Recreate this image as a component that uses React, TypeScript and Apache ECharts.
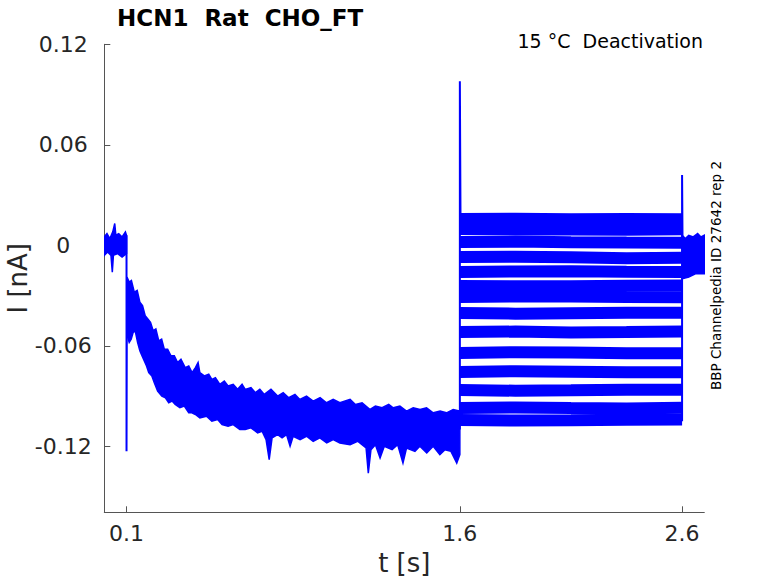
import React, { useEffect, useRef } from "react";
import * as echarts from "echarts";

const BLUE = "#0000ff";
const AXIS_TEXT = "#262626";
const AXIS_LINE = "#555555";
const FONT = "DejaVu Sans";

const xTicks = [0.1, 1.6, 2.6];
const xTickLabels = ["0.1", "1.6", "2.6"];
const yTicks = [-0.12, -0.06, 0, 0.06, 0.12];
const yTickLabels = ["-0.12", "-0.06", "0", "0.06", "0.12"];

// baseline before the step (envelope of all sweeps)
const preUpper = [[0, 0.005], [0.012, 0.007], [0.025, 0.004], [0.038, 0.008], [0.047, 0.013], [0.052, 0.006], [0.065, 0.007], [0.08, 0.005], [0.095, 0.008], [0.1, 0.006]];
const preLower = [[0, -0.006], [0.015, -0.004], [0.03, -0.006], [0.036, -0.016], [0.041, -0.006], [0.06, -0.005], [0.08, -0.007], [0.1, -0.005]];

// activation phase (envelope of all overlapping sweeps)
const decayUpper = [[0.102, -0.019], [0.112, -0.022], [0.122, -0.021], [0.135, -0.028], [0.148, -0.027], [0.16, -0.034], [0.172, -0.036], [0.184, -0.042], [0.196, -0.044], [0.208, -0.046], [0.22, -0.051], [0.232, -0.05], [0.245, -0.057], [0.258, -0.056], [0.27, -0.062], [0.285, -0.062], [0.3, -0.066], [0.315, -0.066], [0.33, -0.07], [0.345, -0.068], [0.364, -0.073], [0.38, -0.072], [0.395, -0.076], [0.41, -0.073], [0.422, -0.07], [0.43, -0.076], [0.45, -0.078], [0.47, -0.077], [0.484, -0.08], [0.5, -0.079], [0.52, -0.083], [0.54, -0.081], [0.557, -0.084], [0.58, -0.083], [0.6, -0.086], [0.62, -0.083], [0.634, -0.086], [0.66, -0.085], [0.68, -0.088], [0.7, -0.086], [0.72, -0.089], [0.75, -0.086], [0.78, -0.09], [0.805, -0.088], [0.83, -0.091], [0.858, -0.089], [0.88, -0.092], [0.91, -0.09], [0.94, -0.093], [0.971, -0.091], [1.0, -0.094], [1.03, -0.092], [1.06, -0.094], [1.106, -0.092], [1.13, -0.095], [1.16, -0.094], [1.196, -0.098], [1.22, -0.096], [1.25, -0.097], [1.28, -0.095], [1.3, -0.097], [1.33, -0.096], [1.36, -0.099], [1.39, -0.097], [1.421, -0.098], [1.45, -0.097], [1.48, -0.1], [1.511, -0.099], [1.54, -0.1], [1.57, -0.098], [1.6, -0.099]];
const decayLower = [[0.103, -0.054], [0.112, -0.058], [0.121, -0.056], [0.13, -0.052], [0.139, -0.051], [0.15, -0.058], [0.16, -0.063], [0.17, -0.066], [0.18, -0.069], [0.19, -0.072], [0.2, -0.076], [0.214, -0.078], [0.225, -0.082], [0.24, -0.087], [0.259, -0.09], [0.275, -0.091], [0.29, -0.094], [0.305, -0.093], [0.319, -0.095], [0.34, -0.097], [0.36, -0.096], [0.38, -0.1], [0.394, -0.1], [0.41, -0.101], [0.43, -0.103], [0.46, -0.102], [0.484, -0.105], [0.51, -0.104], [0.53, -0.107], [0.557, -0.108], [0.58, -0.107], [0.61, -0.11], [0.634, -0.11], [0.66, -0.109], [0.69, -0.112], [0.71, -0.111], [0.728, -0.116], [0.742, -0.128], [0.755, -0.115], [0.78, -0.113], [0.8, -0.115], [0.82, -0.113], [0.836, -0.12], [0.85, -0.114], [0.881, -0.116], [0.91, -0.114], [0.94, -0.117], [0.97, -0.115], [1.001, -0.118], [1.03, -0.116], [1.06, -0.118], [1.106, -0.119], [1.14, -0.117], [1.178, -0.121], [1.188, -0.136], [1.2, -0.122], [1.22, -0.119], [1.241, -0.127], [1.26, -0.12], [1.295, -0.122], [1.32, -0.119], [1.344, -0.13], [1.36, -0.121], [1.398, -0.123], [1.42, -0.12], [1.451, -0.124], [1.48, -0.12], [1.51, -0.125], [1.533, -0.122], [1.56, -0.123], [1.586, -0.13], [1.6, -0.125]];

// after returning to holding (envelope of all sweeps)
const postUpper = [[2.6, 0.006], [2.615, 0.004], [2.63, 0.006], [2.65, 0.005], [2.67, 0.007], [2.685, 0.005], [2.7, 0.006]];
const postLower = [[2.6, -0.02], [2.63, -0.019], [2.66, -0.017], [2.7, -0.017]];

// tail currents of each sweep: values at 1.6, 1.85, 2.1, 2.35, 2.6 s
const tailT = [1.6, 1.85, 2.1, 2.35, 2.6];
const tailLevels = [
  [0.0157, 0.0159, 0.0155, 0.0157, 0.0155],
  [0.0097, 0.0094, 0.0095, 0.0093, 0.0096],
  [0.002, 0.0022, 0.0018, 0.0016, 0.0015],
  [-0.007, -0.0068, -0.0072, -0.0078, -0.0075],
  [-0.0159, -0.0156, -0.0155, -0.0158, -0.016],
  [-0.0243, -0.0245, -0.0245, -0.0242, -0.024],
  [-0.0309, -0.0305, -0.0305, -0.0308, -0.031],
  [-0.0404, -0.0408, -0.0405, -0.0402, -0.0402],
  [-0.0518, -0.0515, -0.052, -0.0518, -0.0515],
  [-0.0643, -0.0638, -0.064, -0.0645, -0.0645],
  [-0.0756, -0.0752, -0.0755, -0.0758, -0.0758],
  [-0.0864, -0.0868, -0.0866, -0.0863, -0.0862],
  [-0.0971, -0.0968, -0.0972, -0.0974, -0.097],
  [-0.1043, -0.1046, -0.1045, -0.1042, -0.104],
];

// capacitive transients at the voltage steps
const spike1 = [[0.1, 0.006], [0.1, -0.123], [0.1015, -0.04]];
const spike2 = [[1.6, -0.11], [1.6, 0.098], [1.603, 0.016]];
const spike3 = [[2.6, -0.105], [2.6, 0.042], [2.602, 0.004]];

function bandSeries(upper: number[][], lower: number[][]) {
  return {
    type: "custom",
    silent: true,
    clip: true,
    data: [[upper[0][0], upper[0][1]]],
    renderItem: (_params: any, api: any) => {
      const pts = upper
        .map((p) => api.coord(p))
        .concat(lower.slice().reverse().map((p) => api.coord(p)));
      return {
        type: "polygon",
        shape: { points: pts },
        style: { fill: BLUE, stroke: BLUE, lineWidth: 1.5 },
      };
    },
  };
}

function lineSeries(data: number[][], width: number) {
  return {
    type: "line",
    data,
    showSymbol: false,
    silent: true,
    lineStyle: { color: BLUE, width },
    itemStyle: { color: BLUE },
  };
}

export default function App() {
  const ref = useRef<HTMLDivElement>(null);
  useEffect(() => {
    if (!ref.current) return;
    const chart = echarts.init(ref.current, undefined, { renderer: "svg" });
    const tails = tailLevels.map((lv) =>
      lineSeries(tailT.map((t, j) => [t, lv[j]]), 12)
    );
    chart.setOption({
      animation: false,
      title: {
        text: "HCN1  Rat  CHO_FT",
        left: 117,
        top: 6,
        padding: 0,
        textStyle: { fontFamily: FONT, fontSize: 23, fontWeight: "bold", color: "#000" },
      },
      graphic: [
        {
          type: "text",
          x: 703,
          y: 41,
          style: {
            text: "15 °C  Deactivation",
            fontFamily: FONT,
            fontSize: 19,
            fill: "#000",
            align: "right",
            verticalAlign: "middle",
          },
        },
        {
          type: "text",
          x: 716,
          y: 275.5,
          rotation: Math.PI / 2,
          style: {
            text: "BBP Channelpedia ID 27642 rep 2",
            fontFamily: FONT,
            fontSize: 13.5,
            fill: "#000",
            align: "center",
            verticalAlign: "middle",
          },
        },
      ],
      grid: { left: 104.3, right: 73.7, top: 44.3, bottom: 70.7, containLabel: false, outerBoundsMode: "none" },
      xAxis: {
        type: "value",
        min: 0,
        max: 2.7,
        name: "t [s]",
        nameLocation: "middle",
        nameGap: 38,
        nameMoveOverlap: false,
        nameTextStyle: { fontFamily: FONT, fontSize: 26, color: AXIS_TEXT },
        axisLine: { show: true, onZero: false, lineStyle: { color: AXIS_LINE, width: 1 } },
        axisTick: { show: true, inside: true, length: 6, customValues: xTicks, lineStyle: { color: AXIS_LINE } },
        axisLabel: {
          customValues: xTicks,
          margin: 10,
          fontFamily: FONT,
          fontSize: 22,
          color: AXIS_TEXT,
          formatter: (v: number) => {
            const i = xTicks.findIndex((t) => Math.abs(t - v) < 1e-9);
            return i >= 0 ? xTickLabels[i] : "";
          },
        },
        splitLine: { show: false },
      },
      yAxis: {
        type: "value",
        min: -0.1594,
        max: 0.12,
        name: "I [nA]",
        nameLocation: "middle",
        nameGap: 73,
        nameRotate: 90,
        nameMoveOverlap: false,
        nameTextStyle: { fontFamily: FONT, fontSize: 26, color: AXIS_TEXT },
        axisLine: { show: true, onZero: false, lineStyle: { color: AXIS_LINE, width: 1 } },
        axisTick: { show: true, inside: true, length: 6, customValues: yTicks, lineStyle: { color: AXIS_LINE } },
        axisLabel: {
          customValues: yTicks,
          margin: 41,
          align: "center",
          fontFamily: FONT,
          fontSize: 22,
          color: AXIS_TEXT,
          formatter: (v: number) => {
            const i = yTicks.findIndex((t) => Math.abs(t - v) < 1e-9);
            return i >= 0 ? yTickLabels[i] : "";
          },
        },
        splitLine: { show: false },
      },
      series: [
        bandSeries(preUpper, preLower),
        lineSeries(spike1, 2),
        bandSeries(decayUpper, decayLower),
        ...tails,
        lineSeries(spike2, 2),
        lineSeries(spike3, 2),
        bandSeries(postUpper, postLower),
      ],
    });
    return () => chart.dispose();
  }, []);
  return (
    <div
      ref={ref}
      style={{ position: "absolute", left: 0, top: 0, width: 778, height: 583 }}
    />
  );
}
